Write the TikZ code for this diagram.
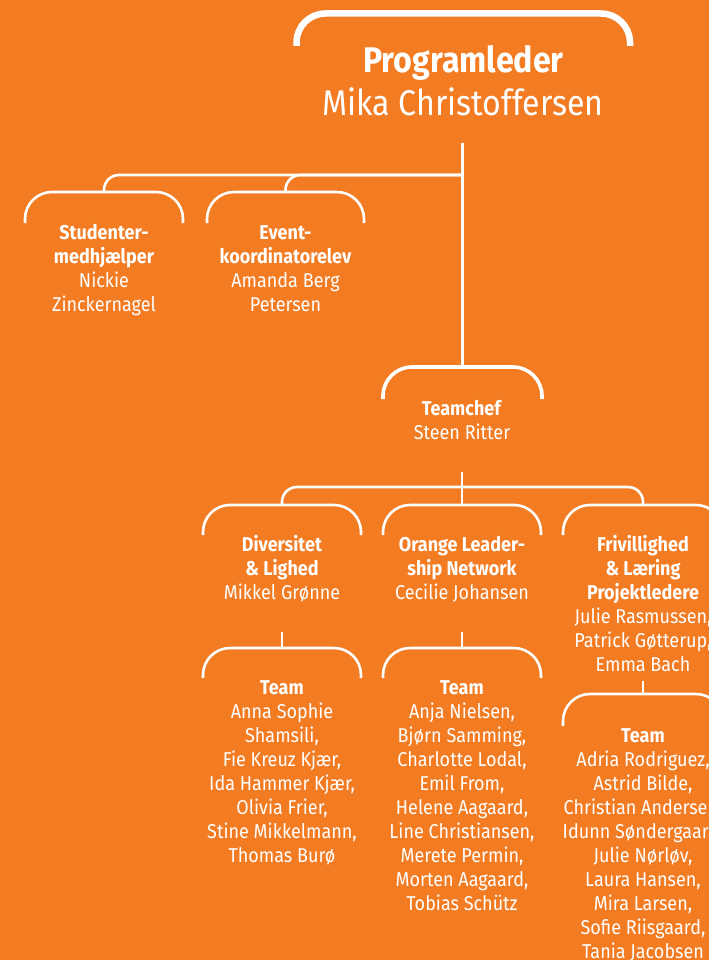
\documentclass[tikz,border=0pt]{standalone}
\usepackage{fontspec}
\setmainfont{Fira Sans}[FakeStretch=0.9]
\definecolor{bgorange}{RGB}{243,123,34}
\begin{document}
\begin{tikzpicture}[x=1pt,y=-1pt,
  txt/.style={anchor=base,align=center,text=white,inner sep=0pt,font=\fontsize{20}{24}\selectfont},
  bigtxt/.style={anchor=base,align=center,text=white,inner sep=0pt,font=\fontsize{35.7}{42}\selectfont},
  brak/.style={draw=white,line width=2.6pt,rounded corners=27pt},
  conn/.style={draw=white,line width=2.6pt,rounded corners=15pt}]
\fill[bgorange] (0,0) rectangle (709,960);
\useasboundingbox (0,0) rectangle (709,960);
% ---- brackets (as named coordinates) ----
\coordinate (bProg) at (463,13.5);
\draw[brak,line width=6.5pt,rounded corners=29pt] (296.5,46) -- (296.5,13.5) -- (630,13.5) -- (630,46);
\coordinate (bStud) at (104,192);
\draw[brak] (25,223) -- (25,192) -- (183,192) -- (183,223);
\coordinate (bEvent) at (285.5,192);
\draw[brak] (207,223) -- (207,192) -- (364,192) -- (364,223);
\coordinate (bTeam) at (462,367);
\draw[brak,line width=3.6pt,rounded corners=29pt] (383,399) -- (383,367) -- (542,367) -- (542,399);
\coordinate (bDiv) at (282,505);
\draw[brak] (203,535) -- (203,505) -- (361,505) -- (361,535);
\coordinate (bOLN) at (462,505);
\draw[brak] (383,535) -- (383,505) -- (541,505) -- (541,535);
\coordinate (bFriv) at (643,505);
\draw[brak] (563,535) -- (563,505) -- (723,505) -- (723,535);
\coordinate (bDivT) at (282,648);
\draw[brak] (203,678) -- (203,648) -- (361,648) -- (361,678);
\coordinate (bOLNT) at (462,648);
\draw[brak] (383,678) -- (383,648) -- (541,648) -- (541,678);
\coordinate (bFrivT) at (643,694);
\draw[brak] (563,726) -- (563,694) -- (723,694) -- (723,726);
% ---- texts (anchor base = baseline of last line) ----
\node[bigtxt] (prog) at (463.5,73) {\textbf{Programleder}};
\node[bigtxt] (mika) at (463,116) {Mika Christoffersen};
\node[txt] (stud) at (104,311) {\textbf{Studenter-}\\\textbf{medhjælper}\\Nickie\\Zinckernagel};
\node[txt] (event) at (285.5,311) {\textbf{Event-}\\\textbf{koordinatorelev}\\Amanda Berg\\Petersen};
\node[txt] (teamchef) at (462,439) {\textbf{Teamchef}\\Steen Ritter};
\node[txt] (div) at (282,599) {\textbf{Diversitet}\\\textbf{\& Lighed}\\Mikkel Grønne};
\node[txt] (oln) at (462,599) {\textbf{Orange Leader-}\\\textbf{ship Network}\\Cecilie Johansen};
\node[txt] (friv) at (643,671) {\textbf{Frivillighed}\\\textbf{\& Læring}\\\textbf{Projektledere}\\Julie Rasmussen,\\Patrick Gøtterup,\\Emma Bach};
\node[txt] (divteam) at (282,862) {\textbf{Team}\\Anna Sophie\\Shamsili,\\Fie Kreuz Kjær,\\Ida Hammer Kjær,\\Olivia Frier,\\Stine Mikkelmann,\\Thomas Burø};
\node[txt] (olnteam) at (462,910) {\textbf{Team}\\Anja Nielsen,\\Bjørn Samming,\\Charlotte Lodal,\\Emil From,\\Helene Aagaard,\\Line Christiansen,\\Merete Permin,\\Morten Aagaard,\\Tobias Schütz};
\node[txt] (frivteam) at (643,958) {\textbf{Team}\\Adria Rodriguez,\\Astrid Bilde,\\Christian Andersen,\\Idunn Søndergaard,\\Julie Nørløv,\\Laura Hansen,\\Mira Larsen,\\Sofie Riisgaard,\\Tania Jacobsen};
% ---- connectors ----
\coordinate (mBot) at (462,143);
\coordinate (j1) at (462,175);
\draw[conn,line width=3pt] (mBot) -- (bTeam);
\draw[conn] (j1) -| (bStud);
\draw[conn] (j1) -| (bEvent);
\coordinate (tBot) at (462,472);
\coordinate (j2) at (462,487);
\draw[conn] (tBot) -- (bOLN);
\draw[conn] (j2) -| (bDiv);
\draw[conn] (j2) -| (bFriv);
\coordinate (dBot) at (282,632);
\draw[conn] (dBot) -- (bDivT);
\coordinate (oBot) at (462,632);
\draw[conn] (oBot) -- (bOLNT);
\coordinate (fBot) at (643,681);
\draw[conn] (fBot) -- (bFrivT);
\end{tikzpicture}
\end{document}
